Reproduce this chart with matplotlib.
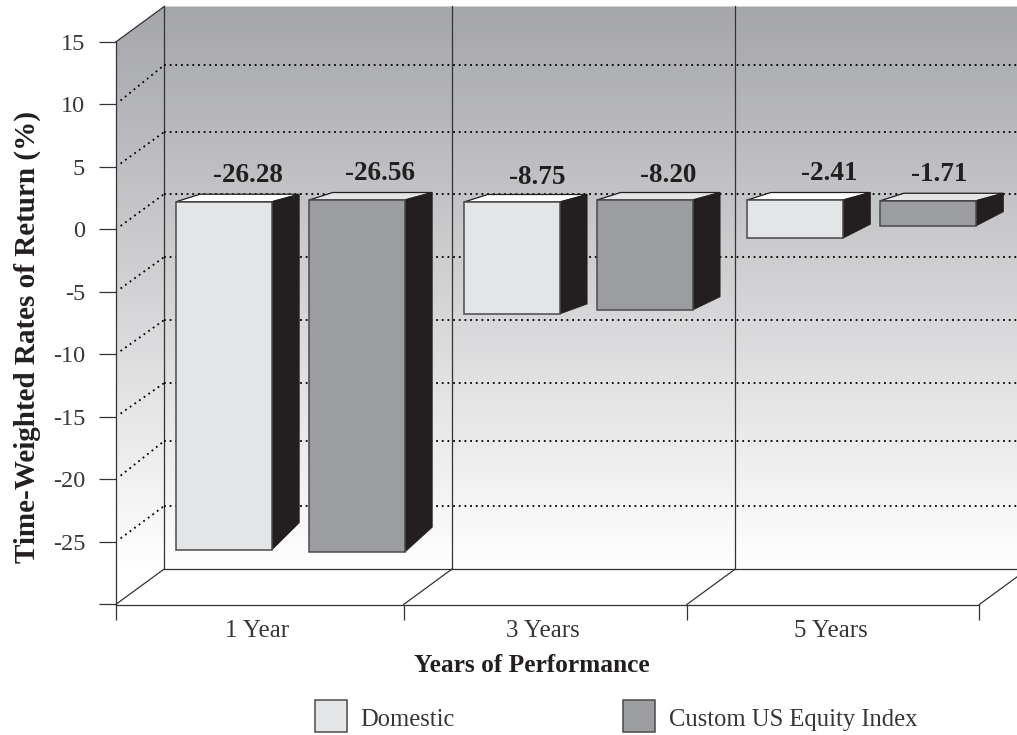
import numpy as np
import matplotlib
matplotlib.use('Agg')
import matplotlib.pyplot as plt
from matplotlib.colors import LinearSegmentedColormap
from matplotlib.patches import Polygon, Rectangle

plt.rcParams['font.family'] = ['Liberation Serif', 'DejaVu Serif']

# Labels and printed values
categories = ['1 Year', '3 Years', '5 Years']
series_names = ['Domestic', 'Custom US Equity Index']
domestic = [-26.28, -8.75, -2.41]
custom_index = [-26.56, -8.20, -1.71]

# The bars are not drawn true to the printed values, so these are read off the y axis
domestic_top = [2.22, 2.20, 2.36]
domestic_bottom = [-25.64, -6.76, -0.70]
domestic_back = [-23.46, -5.96, 0.42]
index_top = [2.36, 2.36, 2.30]
index_bottom = [-25.82, -6.44, 0.28]
index_back = [-23.82, -5.38, 1.42]

# Category edges on the floor and dotted levels on the back wall
cat_edges = [0, 1, 1.984, 3]
y_ticks = [15, 10, 5, 0, -5, -10, -15, -20, -25]
wall_levels = [13.16, 7.80, 2.84, -2.20, -7.24, -12.28, -16.92, -22.12]

ink = '#231f20'
soft_ink = '#3a3637'
light = '#e4e5e7'
mid = '#9c9da0'

W, H = 1017, 735
fig = plt.figure(figsize=(W / 100, H / 100), dpi=100)
ax = fig.add_axes([115.7 / W, 1 - 604.5 / H, 863.6 / W, 562.5 / H])
ax.set_xlim(0, 3)
ax.set_ylim(-30, 15)
ax.patch.set_visible(False)

depth_x = 0.1685
depth_y = 2.84
right_x = 3.14

# Gradient on the side and back walls
wall_cmap = LinearSegmentedColormap.from_list('wall', ['#a5a6aa', '#ffffff'])
shade = np.linspace(0, 1, 256).reshape(-1, 1)
im = ax.imshow(shade, cmap=wall_cmap, vmin=0, vmax=1, aspect='auto', zorder=0,
               extent=[0, right_x, -30 + depth_y, 15 + depth_y], origin='upper')
walls = Polygon([[0, -30], [0, 15], [depth_x, 15 + depth_y], [right_x, 15 + depth_y],
                 [right_x, -30 + depth_y], [depth_x, -30 + depth_y]],
                transform=ax.transData, fill=False, edgecolor='none')
ax.add_patch(walls)
im.set_clip_path(walls)
im.set_clip_box(fig.bbox)
ax.set_xlim(0, 3)
ax.set_ylim(-30, 15)

frame = dict(color='#333333', lw=0.9, clip_on=False, zorder=1)
dots = dict(color='black', lw=1.3, linestyle=(0, (1, 2.14)), clip_on=False, zorder=1)

# Back wall lines and floor
for edge in cat_edges[:-1]:
    ax.plot([edge + depth_x] * 2, [-30 + depth_y, 15 + depth_y], **frame)
for edge in cat_edges:
    ax.plot([edge, edge + depth_x], [-30, -30 + depth_y], **frame)
ax.plot([depth_x, right_x], [-30 + depth_y] * 2, **frame)
ax.plot([0, depth_x], [15, 15 + depth_y], **frame)

# Dotted grid, across the back wall and slanting down the side wall
for tick, level in zip(y_ticks[1:], wall_levels):
    ax.plot([depth_x, right_x], [level, level], **dots)
    ax.plot([depth_x * 0.1, depth_x], [tick + (level - tick) * 0.1, level], **dots)


def draw_bar(left, top, bottom, back, face, top_face):
    width = 0.332
    side = 0.0955
    inset = 0.082
    rise = 0.6
    ax.add_patch(Polygon([[left, top], [left + inset, top + rise], [left + width + side, top + rise],
                          [left + width, top]], facecolor=top_face, edgecolor=ink, lw=0.9, zorder=3, clip_on=False))
    ax.add_patch(Polygon([[left + width, top], [left + width + side, top + rise],
                          [left + width + side, back], [left + width, bottom]],
                         facecolor=ink, edgecolor=ink, lw=0.6, zorder=3, clip_on=False))
    ax.add_patch(Rectangle((left, bottom), width, top - bottom, facecolor=face,
                           edgecolor='#4a4a4c', lw=1.1, zorder=4, clip_on=False))


label_shift = [[0.083, 0.08], [0.087, 0.08], [0.118, 0.038]]
label_height = [2.11, 1.96, 2.11]
for i, edge in enumerate(cat_edges[:-1]):
    draw_bar(edge + 0.21, domestic_top[i], domestic_bottom[i], domestic_back[i], light, 'white')
    draw_bar(edge + 0.672, index_top[i], index_bottom[i], index_back[i], mid, light)
    ax.text(edge + 0.21 + 0.166 + label_shift[i][0], domestic_top[i] + label_height[i], f'{domestic[i]:.2f}',
            ha='center', va='center', fontsize=19.5, fontweight='bold', color=ink, clip_on=False, zorder=5)
    ax.text(edge + 0.672 + 0.166 + label_shift[i][1], index_top[i] + label_height[i], f'{custom_index[i]:.2f}',
            ha='center', va='center', fontsize=19.5, fontweight='bold', color=ink, clip_on=False, zorder=5)

# Axes proper
for name in ['top', 'right']:
    ax.spines[name].set_visible(False)
for name in ['left', 'bottom']:
    ax.spines[name].set_color('#333333')
    ax.spines[name].set_linewidth(0.9)
ax.set_yticks(y_ticks + [-30])
ax.set_yticklabels([str(t) for t in y_ticks] + [''])
ax.tick_params(axis='y', length=12.5, width=0.9, color='#333333', labelsize=17.5, labelcolor=soft_ink, pad=9.5)
ax.set_xticks(cat_edges)
ax.set_xticklabels([])
ax.tick_params(axis='x', length=10.8, width=0.9, color='#333333')
centers = [(a + b) / 2 - 0.009 for a, b in zip(cat_edges[:-1], cat_edges[1:])]
ax.set_xticks(centers, minor=True)
ax.set_xticklabels(categories, minor=True)
ax.tick_params(axis='x', which='minor', length=0, labelsize=18, labelcolor=soft_ink, pad=11)

fig.text(532 / W, 1 - 666 / H, 'Years of Performance', ha='center', va='center',
         fontsize=18.3, fontweight='bold', color=ink)
fig.text(27 / W, 1 - 337 / H, 'Time-Weighted Rates of Return (%)', rotation=90, ha='center', va='center',
         fontsize=21, fontweight='bold', color=ink)

# Legend
for x0, text_x, name, color in zip([314.5, 623], [360, 669], series_names, [light, mid]):
    fig.add_artist(Rectangle((x0 / W, 1 - 732 / H), 32 / W, 32 / H, transform=fig.transFigure,
                             facecolor=color, edgecolor='#4a4a4c', lw=1.1))
    fig.text(text_x / W, 1 - 726 / H, name, ha='left', va='baseline', fontsize=17.7, color=soft_ink)

fig.savefig('out.png', dpi=100)
